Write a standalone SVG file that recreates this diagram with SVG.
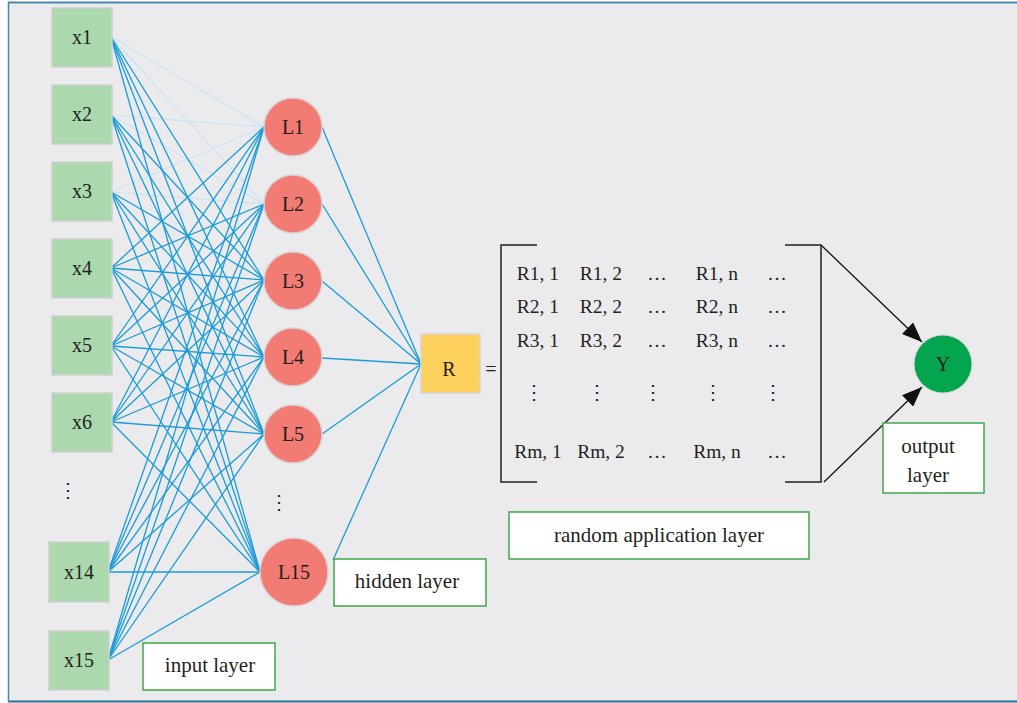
<svg xmlns="http://www.w3.org/2000/svg" width="1017" height="703" viewBox="0 0 1017 703">
<style>
text{font-family:"Liberation Serif","DejaVu Serif",serif;font-size:20px;fill:#231f20;text-anchor:middle}
#matrix text{font-size:19.5px}
.lbl text{font-size:21px}
.in{fill:#acd8ae;stroke:#cfcfcf;stroke-width:1.5}
.hid{fill:#f27b73;stroke:#d9d0d0;stroke-width:1.5}
.lab{fill:#ffffff;stroke:#3ea84a;stroke-width:1.5}
.c line{stroke:#1b9bd7;stroke-width:1.3}
.c line.f{stroke:#c9e4f6;stroke-width:1.2}
.br{fill:none;stroke:#231f20;stroke-width:1.5}
</style>
<defs>
<marker id="ah" viewBox="0 0 20 16" refX="20" refY="8" markerWidth="20" markerHeight="16" markerUnits="userSpaceOnUse" orient="auto">
<path d="M0,0 L20,8 L0,16 z" fill="#111"/>
</marker>
</defs>
<rect x="0" y="0" width="1017" height="703" fill="#ffffff"/>
<rect x="8" y="2" width="1020" height="700" fill="#ebebee"/>
<line x1="8" y1="2.5" x2="1017" y2="2.5" stroke="#4a88a8" stroke-width="2"/>
<line x1="8" y1="701.5" x2="1017" y2="701.5" stroke="#2a6f8f" stroke-width="2"/>
<line x1="8.5" y1="2" x2="8.5" y2="702" stroke="#4a88a8" stroke-width="1.5"/>

<g id="connectors" class="c">
<line class="f" x1="111" y1="37" x2="264" y2="127"/>
<line class="f" x1="111" y1="37" x2="264" y2="204"/>
<line class="f" x1="111" y1="115" x2="264" y2="127"/>
<line class="f" x1="111" y1="115" x2="264" y2="204"/>
<line class="f" x1="111" y1="192" x2="264" y2="127"/>
<line class="f" x1="111" y1="192" x2="264" y2="204"/>
<line x1="111" y1="37" x2="264" y2="280"/>
<line x1="111" y1="37" x2="264" y2="357"/>
<line x1="111" y1="37" x2="264" y2="434"/>
<line x1="111" y1="37" x2="260" y2="572"/>
<line x1="111" y1="115" x2="264" y2="280"/>
<line x1="111" y1="115" x2="264" y2="357"/>
<line x1="111" y1="115" x2="264" y2="434"/>
<line x1="111" y1="115" x2="260" y2="572"/>
<line x1="111" y1="192" x2="264" y2="280"/>
<line x1="111" y1="192" x2="264" y2="357"/>
<line x1="111" y1="192" x2="264" y2="434"/>
<line x1="111" y1="192" x2="260" y2="572"/>
<line x1="111" y1="268" x2="264" y2="127"/>
<line x1="111" y1="268" x2="264" y2="204"/>
<line x1="111" y1="268" x2="264" y2="280"/>
<line x1="111" y1="268" x2="264" y2="357"/>
<line x1="111" y1="268" x2="264" y2="434"/>
<line x1="111" y1="268" x2="260" y2="572"/>
<line x1="111" y1="346" x2="264" y2="127"/>
<line x1="111" y1="346" x2="264" y2="204"/>
<line x1="111" y1="346" x2="264" y2="280"/>
<line x1="111" y1="346" x2="264" y2="357"/>
<line x1="111" y1="346" x2="264" y2="434"/>
<line x1="111" y1="346" x2="260" y2="572"/>
<line x1="111" y1="422" x2="264" y2="127"/>
<line x1="111" y1="422" x2="264" y2="204"/>
<line x1="111" y1="422" x2="264" y2="280"/>
<line x1="111" y1="422" x2="264" y2="357"/>
<line x1="111" y1="422" x2="264" y2="434"/>
<line x1="111" y1="422" x2="260" y2="572"/>
<line x1="108" y1="572" x2="264" y2="127"/>
<line x1="108" y1="572" x2="264" y2="204"/>
<line x1="108" y1="572" x2="264" y2="280"/>
<line x1="108" y1="572" x2="264" y2="357"/>
<line x1="108" y1="572" x2="264" y2="434"/>
<line x1="108" y1="572" x2="260" y2="572"/>
<line x1="108" y1="660" x2="264" y2="127"/>
<line x1="108" y1="660" x2="264" y2="204"/>
<line x1="108" y1="660" x2="264" y2="280"/>
<line x1="108" y1="660" x2="264" y2="357"/>
<line x1="108" y1="660" x2="264" y2="434"/>
<line x1="108" y1="660" x2="260" y2="572"/>
<line x1="322" y1="127" x2="421" y2="364"/>
<line x1="322" y1="204" x2="421" y2="364"/>
<line x1="322" y1="281" x2="421" y2="364"/>
<line x1="322" y1="358" x2="421" y2="364"/>
<line x1="322" y1="434" x2="421" y2="364"/>
<line x1="333" y1="560" x2="421" y2="364"/>
<line x1="821" y1="245" x2="922" y2="342" style="stroke:#111;stroke-width:1.3" marker-end="url(#ah)"/>
<line x1="824" y1="482" x2="922" y2="387" style="stroke:#111;stroke-width:1.3" marker-end="url(#ah)"/>
</g>

<g id="x1"><rect class="in" x="52" y="8" width="60" height="59"/><text x="82" y="44">x1</text></g>
<g id="x2"><rect class="in" x="52" y="85" width="60" height="59"/><text x="82" y="121">x2</text></g>
<g id="x3"><rect class="in" x="52" y="162" width="60" height="59"/><text x="82" y="198">x3</text></g>
<g id="x4"><rect class="in" x="52" y="239" width="60" height="59"/><text x="82" y="275">x4</text></g>
<g id="x5"><rect class="in" x="52" y="316" width="60" height="59"/><text x="82" y="352">x5</text></g>
<g id="x6"><rect class="in" x="52" y="393" width="60" height="59"/><text x="82" y="429">x6</text></g>
<g id="xdots"><text x="68" y="497">⋮</text></g>
<g id="x14"><rect class="in" x="49" y="542" width="60" height="60"/><text x="79" y="579">x14</text></g>
<g id="x15"><rect class="in" x="49" y="631" width="60" height="59"/><text x="79" y="667">x15</text></g>

<g id="L1"><circle class="hid" cx="293" cy="127" r="29"/><text x="293" y="134">L1</text></g>
<g id="L2"><circle class="hid" cx="293" cy="204" r="29"/><text x="293" y="211">L2</text></g>
<g id="L3"><circle class="hid" cx="293" cy="281" r="29"/><text x="293" y="288">L3</text></g>
<g id="L4"><circle class="hid" cx="293" cy="357" r="29"/><text x="293" y="364">L4</text></g>
<g id="L5"><circle class="hid" cx="293" cy="434" r="29"/><text x="293" y="441">L5</text></g>
<g id="Ldots"><text x="279" y="509">⋮</text></g>
<g id="L15"><circle class="hid" cx="294" cy="572" r="34"/><text x="294" y="579">L15</text></g>

<g id="R"><rect x="421" y="334" width="59" height="59" fill="#fed05c" stroke="#d6d6d6" stroke-width="1.5"/><text x="449" y="376">R</text></g>
<g id="eq"><text x="491" y="376">=</text></g>

<g id="matrix">
<path class="br" d="M537,245 H501 V482 H537"/>
<path class="br" d="M785,245 H821 V482 H785"/>
<text x="538" y="280">R1, 1</text><text x="601" y="280">R1, 2</text><text x="657" y="280">…</text><text x="717" y="280">R1, n</text><text x="777" y="280">…</text>
<text x="538" y="313">R2, 1</text><text x="601" y="313">R2, 2</text><text x="657" y="313">…</text><text x="717" y="313">R2, n</text><text x="777" y="313">…</text>
<text x="538" y="347">R3, 1</text><text x="601" y="347">R3, 2</text><text x="657" y="347">…</text><text x="717" y="347">R3, n</text><text x="777" y="347">…</text>
<text x="534" y="399">⋮</text><text x="597" y="399">⋮</text><text x="653" y="399">⋮</text><text x="713" y="399">⋮</text><text x="773" y="399">⋮</text>
<text x="538" y="458">Rm, 1</text><text x="601" y="458">Rm, 2</text><text x="657" y="458">…</text><text x="717" y="458">Rm, n</text><text x="777" y="458">…</text>
</g>

<g id="Y"><circle cx="943" cy="364" r="29" fill="#04a54f" stroke="#d6d6d6" stroke-width="1"/><text x="943" y="371">Y</text></g>

<g id="input-layer" class="lbl"><rect class="lab" x="143" y="643" width="132" height="47"/><text x="210" y="672">input layer</text></g>
<g id="hidden-layer" class="lbl"><rect class="lab" x="334" y="559" width="152" height="47"/><text x="407" y="588">hidden layer</text></g>
<g id="random-layer" class="lbl"><rect class="lab" x="509" y="512" width="300" height="47"/><text x="659" y="542">random application layer</text></g>
<g id="output-layer" class="lbl"><rect class="lab" x="883" y="423" width="101" height="70"/><text x="928" y="453">output</text><text x="928" y="482">layer</text></g>
</svg>
